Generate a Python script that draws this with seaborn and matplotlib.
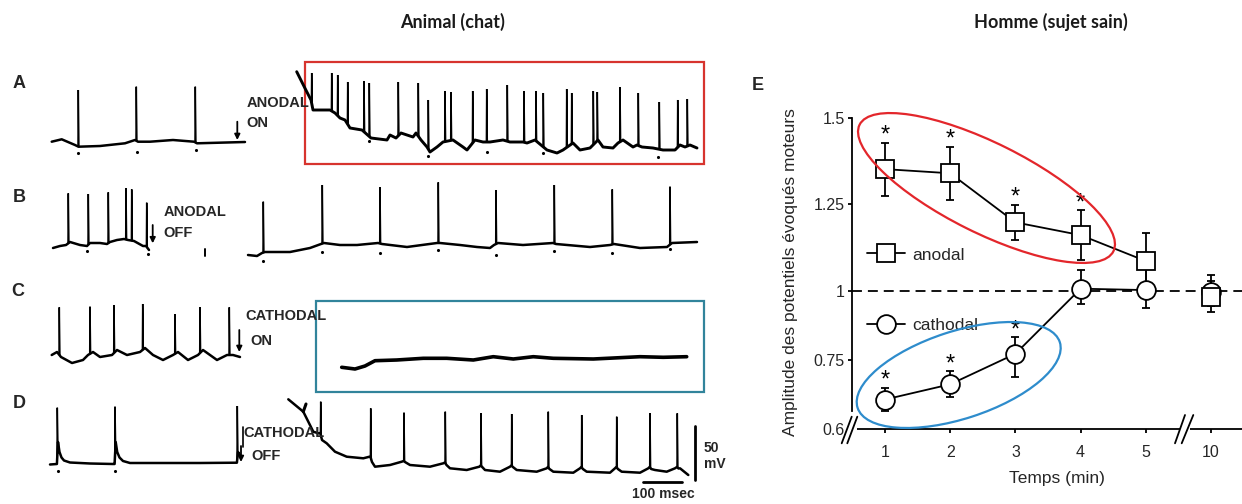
import numpy as np
import matplotlib
matplotlib.use("Agg")
import matplotlib.pyplot as plt
import seaborn as sns
from matplotlib.patches import Ellipse, Rectangle
from matplotlib.lines import Line2D

sns.set_theme(style="white")
plt.rcParams['font.family'] = ['Liberation Sans', 'DejaVu Sans']

# ---------------- Panel E data ----------------
time_labels = ['1', '2', '3', '4', '5', '10']
time_pos = [1, 2, 3, 4, 5, 6]
anodal_mean = [1.352, 1.340, 1.198, 1.161, 1.086, 0.976]
anodal_sem = [0.077, 0.077, 0.050, 0.072, 0.080, 0.052]
cathodal_mean = [0.664, 0.697, 0.772, 1.006, 1.002, 0.996]
cathodal_sem = [0.026, 0.028, 0.060, 0.055, 0.065, 0.050]
anodal_signif = [True, True, True, True, False, False]
cathodal_signif = [True, True, True, False, False, False]
y_ticks = [0.6, 0.75, 1.0, 1.25, 1.5]
y_tick_labels = ['0.6', '0.75', '1', '1.25', '1.5']

# ---------------- Intracellular traces (figure pixel units) ----------------
A_pre_base = [(51.7, 141.7), (61.7, 139.3), (75, 145), (78.5, 146.7), (100, 146), (125, 143.3),
              (135, 140), (138, 141.7), (150, 141.7), (173, 140), (194, 141.7), (197, 143.3), (245, 142)]
A_pre_spike_x = [78.3, 136.3, 195.3]
A_pre_spike_top = [90, 86.7, 86.7]
A_pre_dots = [(77.5, 152.5), (136.5, 151.5), (195.5, 149.5)]

A_post_base = [(296.7, 71.7), (305, 88.3), (311, 100), (313, 110), (330, 110), (335, 113), (340, 118),
               (345, 120), (350, 128), (362, 130), (371, 138), (387, 140), (390, 135), (396, 138),
               (401, 133), (413, 137), (416, 133), (421, 140), (427, 147), (430, 152), (437, 147),
               (443, 142), (453, 140), (463, 147), (467, 150), (471, 145), (475, 140), (483, 142),
               (490, 142), (503, 140), (510, 142), (523, 142), (527, 143), (535, 140), (547, 150),
               (557, 153), (563, 150), (573, 143), (580, 150), (590, 148), (598, 140), (603, 147),
               (613, 148), (618, 143), (623, 140), (633, 147), (637, 145), (642, 147), (653, 148),
               (663, 150), (675, 150), (680, 145), (685, 147), (690, 145), (697, 148)]
A_post_spike_x = [311.7, 331.7, 337.7, 347.7, 364, 369.3, 398.3, 418.3, 428.3, 445, 451, 472.7, 486.7,
                  507.3, 524, 536, 543.3, 566.7, 571.7, 593.3, 597.3, 620, 638.3, 659.3, 677.7, 687.3]
A_post_spike_top = [73, 73, 75, 82, 81, 83, 82, 83, 100, 91, 92, 91, 89, 85, 91, 91, 93, 89, 93, 91,
                    92, 87, 93, 102, 100, 99]
A_post_dots = [(369.3, 141), (428.3, 156), (486.7, 151.5), (543.3, 153), (658.3, 157)]

B_pre_base = [(53, 248), (60, 246), (66, 245), (70, 242), (80, 245), (87, 246), (90, 243), (100, 243),
              (107, 244), (110, 242), (117, 240), (124, 239), (128, 240), (134, 241), (143, 246),
              (146, 246), (149, 250)]
B_pre_spike_x = [68.3, 88.3, 108.3, 126, 131.7, 146.7]
B_pre_spike_top = [193.3, 194, 192.3, 188.3, 189.3, 202.7]
B_pre_dots = [(87.3, 251), (148, 254)]

B_post_base = [(248, 255), (257, 256), (262, 253), (265, 252), (290, 252), (310, 248), (321, 244),
               (324, 243), (340, 245), (357, 245), (378, 243), (382, 244), (407, 247), (437, 243),
               (440, 243), (460, 245), (477, 247), (490, 248), (494, 245), (498, 243), (523, 245),
               (553, 243), (556, 244), (590, 247), (610, 245), (614, 244), (640, 248), (667, 247),
               (672, 243), (697, 242)]
B_post_spike_x = [263.3, 322.3, 380, 438.3, 496, 554.3, 612.3, 670]
B_post_spike_top = [201.7, 185, 187.3, 182.3, 190, 185, 189.3, 186.7]
B_post_dots = [(263.3, 260.5), (322.3, 251.7), (380, 253.3), (438.3, 250), (496, 255),
               (554.3, 251), (612.3, 252.7), (670, 249)]

C_pre_base = [(51.7, 355), (57, 352), (61, 357), (72, 363), (83, 360), (88, 355), (93, 352), (100, 357),
              (112, 355), (117, 350), (127, 355), (140, 352), (145, 348), (153, 355), (163, 360),
              (173, 355), (178, 352), (188, 360), (198, 355), (203, 350), (217, 360), (227, 355),
              (233, 355), (240, 357)]
C_pre_spike_x = [59.3, 90, 114, 142.7, 175, 200, 229.3]
C_pre_spike_top = [307.3, 306.7, 305, 304, 314.3, 307.3, 307.3]

C_post_base = [(341.7, 367.3), (355, 369), (365, 366), (375, 360.7), (396.7, 360), (423.3, 358.3),
               (446.7, 358.3), (473.3, 360), (493.3, 356.7), (513.3, 359), (533.3, 356.7),
               (553.3, 358.3), (593.3, 359), (640, 356.7), (663.3, 357.3), (686.7, 356.7)]

D_pre_base = [(50, 464.5), (56.9, 464), (58, 442), (59.5, 452), (61.5, 457.5), (64, 460.5), (70, 462.5),
              (90, 463.5), (113, 464), (114.6, 464), (115.7, 442), (117.2, 452), (119.5, 457.5),
              (123, 461), (130, 463), (160, 463), (200, 463), (236.9, 462.7), (238, 452), (240, 455)]
D_pre_spike_x = [57.3, 115, 237.3]
D_pre_spike_top = [407.7, 406.7, 406]
D_pre_dots = [(58.3, 470.7), (115, 470.7)]

D_post_base = [(288.3, 399.3), (303.3, 411.7), (313.3, 431.7), (318.3, 433.3), (320.3, 433), (322, 440),
               (326.7, 443.3), (335, 451.7), (346.7, 456.7), (363.3, 458.3), (370.3, 456.5), (372, 462),
               (375, 466.7), (390, 465), (401.7, 461.7), (403.6, 461), (405, 462), (410, 465),
               (430, 466.7), (443.3, 463.3), (444.9, 462.5), (446.5, 465), (450, 468.3), (466.7, 470),
               (479.3, 466.7), (480.6, 465.5), (482.2, 467), (485, 470), (500, 471.7), (510, 466.7),
               (511.3, 465.5), (512.9, 467), (516.7, 470), (536.7, 471.7), (546.7, 468.3),
               (547.9, 467), (549.5, 469), (553.3, 471.7), (573.3, 472.7), (580, 468.3), (581.3, 467),
               (582.9, 469), (586.7, 471.7), (610, 472.7), (615, 468.3), (616.3, 467), (617.9, 469),
               (621.7, 471.7), (640, 472.7), (648.3, 468.3), (649.6, 467), (651.2, 469), (655, 470),
               (666.7, 471.7), (675, 468.3), (676.9, 467), (678.5, 468.5), (680, 468.3), (688.3, 475)]
D_post_branch = [(303.3, 411.7), (306, 404)]
D_post_spike_x = [320.7, 370.7, 404, 445.3, 481, 511.7, 548.3, 581.7, 616.7, 650, 677.3]
D_post_spike_top = [401.7, 408.3, 412.7, 411.7, 413.3, 414, 411.7, 415, 416.7, 413.3, 413.3]

# ---------------- figure ----------------
W, H = 1242, 504
fig = plt.figure(figsize=(W / 100, H / 100), dpi=100, facecolor='white')

# panel E axes
px_per_x = 65.2
x_left = (852 - 885) / px_per_x + 1
x_right = (W - 885) / px_per_x + 1
ax = fig.add_axes([852 / W, (H - 429) / H, (W - 852) / W, (429 - 100.7) / H])
ax.set_facecolor('none')


def fwd(v):
    v = np.asarray(v, dtype=float)
    return np.where(v >= 1, v, np.where(v >= 0.75, 1 - (1 - v) * 0.8, 0.8 - (0.75 - v) * (0.2 / 0.15)))


def inv(p):
    p = np.asarray(p, dtype=float)
    return np.where(p >= 1, p, np.where(p >= 0.8, 1 - (1 - p) / 0.8, 0.75 - (0.8 - p) * 0.75))


ax.set_yscale('function', functions=(fwd, inv))
ax.set_xlim(x_left, x_right)
ax.set_ylim(0.6, 1.55)

lw = 1.3
sq_ms, ci_ms = 12.5, 13.5
ax.axhline(1.0, color='black', lw=lw, dashes=(5.5, 3.3), zorder=1)

ax.errorbar(time_pos, anodal_mean, yerr=anodal_sem, fmt='none', ecolor='black',
            elinewidth=lw, capsize=2.6, capthick=lw, zorder=2)
ax.errorbar(time_pos, cathodal_mean, yerr=cathodal_sem, fmt='none', ecolor='black',
            elinewidth=lw, capsize=2.6, capthick=lw, zorder=2)

sns.lineplot(x=time_pos[:5], y=cathodal_mean[:5], ax=ax, color='black', lw=lw, marker='o',
             markersize=ci_ms, markerfacecolor='white', markeredgecolor='black', markeredgewidth=lw,
             zorder=3)
sns.lineplot(x=time_pos[:5], y=anodal_mean[:5], ax=ax, color='black', lw=lw, marker='s',
             markersize=sq_ms, markerfacecolor='white', markeredgecolor='black', markeredgewidth=lw,
             zorder=3)
ax.plot(time_pos[5:], cathodal_mean[5:], ls='none', marker='o', markersize=ci_ms, mfc='white',
        mec='black', mew=lw, zorder=4)
ax.plot(time_pos[5:], anodal_mean[5:], ls='none', marker='s', markersize=sq_ms, mfc='white',
        mec='black', mew=lw, zorder=4)

for xs, m, s, sig in zip(time_pos, anodal_mean, anodal_sem, anodal_signif):
    if sig:
        ax.annotate('*', xy=(xs, m + s), xytext=(0, 0.8), textcoords='offset points', ha='center',
                    va='baseline', fontsize=17, color='black')
for xs, m, s, sig in zip(time_pos, cathodal_mean, cathodal_sem, cathodal_signif):
    if sig:
        ax.annotate('*', xy=(xs, m + s), xytext=(0, 0.8), textcoords='offset points', ha='center',
                    va='baseline', fontsize=17, color='black')

# axes styling
for side in ['top', 'right', 'bottom']:
    ax.spines[side].set_visible(False)
ax.spines['left'].set_color('black')
ax.spines['left'].set_linewidth(lw)
ax.spines['left'].set_bounds(0.64, 1.5)
ax.set_yticks(y_ticks)
ax.set_yticklabels(y_tick_labels)
ax.set_xticks(time_pos)
ax.set_xticklabels(time_labels)
ax.tick_params(axis='y', direction='out', length=3.2, width=lw, color='black', pad=2,
               labelsize=11.5, left=True)
ax.tick_params(axis='x', direction='out', length=3.2, width=lw, color='black', pad=8,
               labelsize=11.5, bottom=True)
ax.yaxis.get_major_ticks()[0].tick1line.set_visible(False)
ax.minorticks_off()
xt = ax.get_xaxis_transform()
ax.plot([(857 - 885) / px_per_x + 1, (1180 - 885) / px_per_x + 1], [0, 0], color='black', lw=lw,
        transform=xt, clip_on=False, solid_capstyle='butt')
ax.plot([(1190 - 885) / px_per_x + 1, x_right], [0, 0], color='black', lw=lw,
        transform=xt, clip_on=False, solid_capstyle='butt')

h_an = Line2D([0], [0], color='black', lw=lw, marker='s', ms=sq_ms, mfc='white', mec='black', mew=lw)
h_ca = Line2D([0], [0], color='black', lw=lw, marker='o', ms=ci_ms, mfc='white', mec='black', mew=lw)

# overlay axes in figure pixel units
ov = fig.add_axes([0, 0, 1, 1], zorder=5)
ov.set_xlim(0, W)
ov.set_ylim(H, 0)
ov.axis('off')
ov.patch.set_visible(False)

leg = ax.legend(handles=[h_an, h_ca], labels=['anodal', 'cathodal'], loc='center left',
                bbox_to_anchor=(867, 290.3), bbox_transform=ov.transData, frameon=False,
                handlelength=2.2, handletextpad=0.4, labelspacing=3.2, borderpad=0,
                borderaxespad=0, fontsize=12.5)

# break marks
for (x0, y0, x1, y1) in [(841.7, 443.3, 851.7, 416.7), (847.3, 443.3, 857.3, 416.7),
                         (1175, 443.3, 1185, 415), (1181.7, 443.3, 1193.3, 415)]:
    ov.plot([x0, x1], [y0, y1], color='black', lw=lw)

ov.text(790, 272, 'Amplitude des potentiels évoqués moteurs', rotation=90, ha='center',
        va='center', fontsize=12.5)
ov.text(1056.7, 478, 'Temps (min)', ha='center', va='center', fontsize=12.5)

# ellipses
ov.add_patch(Ellipse((986.5, 188), 283.6, 89.8, angle=26.5, fill=False, ec='#e3262b', lw=1.6))
ov.add_patch(Ellipse((958.7, 375), 212.6, 87.4, angle=-18, fill=False, ec='#2e8ccc', lw=1.6))

# titles and panel letters
title_font = ['Lato', 'DejaVu Sans']
ov.text(452.5, 22, 'Animal (chat)', ha='center', va='center', fontsize=13, fontweight='bold',
        family=title_font, color='#1a1a1a')
ov.text(1050.5, 22, 'Homme (sujet sain)', ha='center', va='center', fontsize=13, fontweight='bold',
        family=title_font, color='#1a1a1a')
for letter, (lx, ly) in zip(['A', 'B', 'C', 'D', 'E'],
                            [(19.5, 84), (19, 198), (17.5, 291), (19, 403), (758, 86)]):
    ov.text(lx, ly, letter, ha='center', va='center', fontsize=13, fontweight='bold')


# traces
def draw_trace(base, spike_x=(), spike_top=(), base_lw=1.8, spike_lw=1.1):
    bx = np.array([p[0] for p in base])
    by = np.array([p[1] for p in base])
    ov.plot(bx, by, color='black', lw=base_lw, solid_capstyle='round', solid_joinstyle='round')
    for sx, st in zip(spike_x, spike_top):
        xs = [sx - 0.3, sx, sx + 0.6]
        ys = [np.interp(sx - 0.3, bx, by), st, np.interp(sx + 0.6, bx, by)]
        ov.plot(xs, ys, color='black', lw=spike_lw, solid_joinstyle='miter')


def draw_dots(dots):
    ov.scatter([d[0] for d in dots], [d[1] for d in dots], s=5, color='black', linewidths=0)


draw_trace(A_pre_base, A_pre_spike_x, A_pre_spike_top)
draw_dots(A_pre_dots)
draw_trace(A_post_base, A_post_spike_x, A_post_spike_top, base_lw=2.1)
draw_dots(A_post_dots)
draw_trace(B_pre_base, B_pre_spike_x, B_pre_spike_top)
draw_dots(B_pre_dots)
draw_trace(B_post_base, B_post_spike_x, B_post_spike_top)
draw_dots(B_post_dots)
draw_trace(C_pre_base, C_pre_spike_x, C_pre_spike_top)
draw_trace(C_post_base, base_lw=2.6)
draw_trace(D_pre_base, D_pre_spike_x, D_pre_spike_top)
draw_dots(D_pre_dots)
draw_trace(D_post_base, D_post_spike_x, D_post_spike_top)
draw_trace(D_post_branch, base_lw=2.2)

# small mark in B
ov.plot([205, 205], [249, 256], color='black', lw=1.4)

# boxes
ov.add_patch(Rectangle((304.5, 61.5), 399, 102.5, fill=False, ec='#d7342e', lw=1.6))
ov.add_patch(Rectangle((315.7, 300.7), 388.3, 91, fill=False, ec='#31849b', lw=1.6))

# stimulation labels and arrows
lab_font = ['Liberation Sans Narrow', 'Liberation Sans']
for txt, (tx, ty) in [('ANODAL', (246.7, 103.3)), ('ON', (246.7, 123.3)),
                      ('ANODAL', (163.3, 211.7)), ('OFF', (163.3, 232.7)),
                      ('CATHODAL', (245, 316)), ('ON', (250, 341)),
                      ('CATHODAL', (243.3, 433.3)), ('OFF', (251.7, 456))]:
    ov.text(tx, ty, txt, ha='left', va='center', fontsize=10.5, fontweight='bold', family=lab_font)

for (axx, y0, y1) in [(237.3, 121.7, 140), (152.7, 225, 243.3), (239.3, 330, 352), (241, 446, 462)]:
    ov.annotate('', xy=(axx, y1), xytext=(axx, y0),
                arrowprops=dict(arrowstyle='-|>', color='black', lw=1.3, mutation_scale=8,
                                shrinkA=0, shrinkB=0))
ov.plot([242.6, 242.6], [427, 447], color='black', lw=1.2)

# scale bars
ov.plot([695, 695], [426, 480], color='black', lw=2)
ov.plot([643.3, 681.7], [481.7, 481.7], color='black', lw=2)
ov.text(704, 448, '50', ha='left', va='center', fontsize=10, fontweight='bold', family=lab_font)
ov.text(704, 463.5, 'mV', ha='left', va='center', fontsize=10, fontweight='bold', family=lab_font)
ov.text(663.3, 494, '100 msec', ha='center', va='center', fontsize=10, fontweight='bold',
        family=lab_font)

fig.savefig('out.png', dpi=100, facecolor='white')
